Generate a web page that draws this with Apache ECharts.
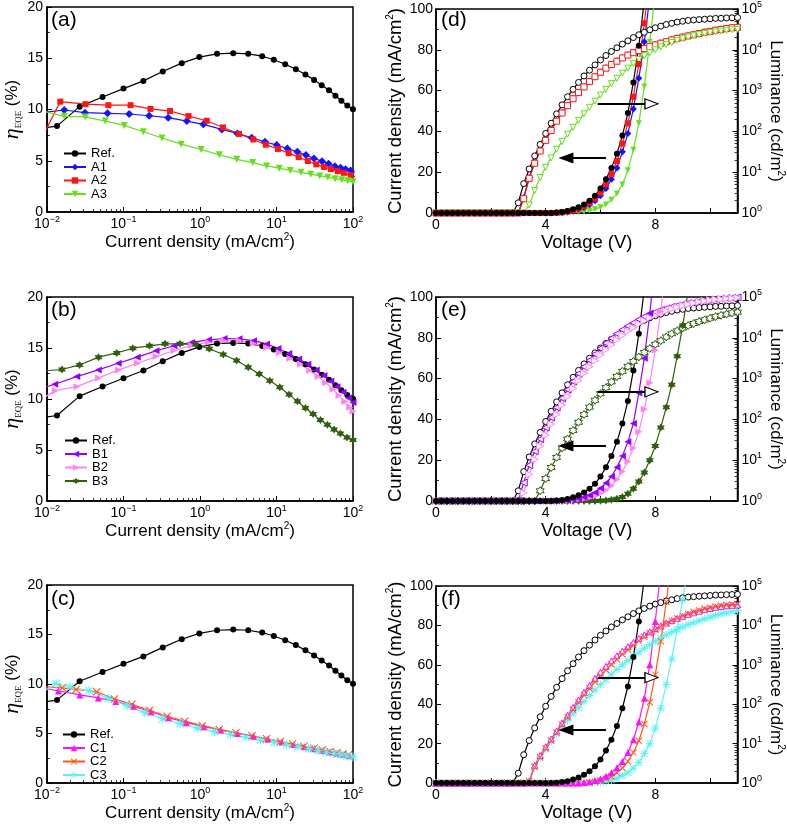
<!DOCTYPE html>
<html><head><meta charset="utf-8">
<script src="https://cdn.jsdelivr.net/npm/echarts/dist/echarts.min.js"></script>
<style>html,body{margin:0;padding:0;background:#fff}#c{width:787px;height:824px}</style>
</head><body><div id="c"></div>
<script>
// ---------- EQE vs current density (mA/cm2) ----------
const refX = [0.0089, 0.0135, 0.0267, 0.0532, 0.1, 0.182, 0.326, 0.577, 0.98, 1.67, 2.72, 4.27, 6.5, 9.23, 13.0, 17.9, 23.9, 31.0, 39.0, 48.6, 58.9, 70.5, 84.3, 100];
const refY = [8.18, 8.38, 10.28, 11.22, 12.04, 12.79, 13.70, 14.52, 15.11, 15.43, 15.50, 15.43, 15.20, 14.85, 14.42, 13.93, 13.41, 12.89, 12.37, 11.88, 11.35, 10.86, 10.38, 10.02];

const a1X = [0.0089, 0.0168, 0.0313, 0.0618, 0.1186, 0.2168, 0.3837, 0.673, 1.107, 1.928, 3.076, 4.742, 7.08, 10.07, 13.84, 18.71, 24.27, 30.9, 39.3, 47.9, 58.1, 68.9, 80.0, 92.9, 107.2];
const a1Y = [9.7, 9.95, 9.69, 9.63, 9.56, 9.39, 9.2, 8.87, 8.55, 8.06, 7.67, 7.24, 6.85, 6.53, 6.2, 5.87, 5.55, 5.22, 4.96, 4.70, 4.47, 4.31, 4.18, 4.05, 3.85];
const a2X = [0.0089, 0.01493, 0.03184, 0.06339, 0.1236, 0.2254, 0.4055, 0.7079, 1.225, 1.995, 3.236, 4.977, 7.244, 10.47, 14.45, 19.5, 25.7, 33.1, 41.7, 51.3, 63.1, 75.9, 93.3, 109.6];
const a2Y = [7.49, 10.77, 10.52, 10.42, 10.42, 10.06, 9.85, 9.36, 8.9, 8.25, 7.62, 7.08, 6.57, 6.15, 5.74, 5.35, 4.98, 4.65, 4.40, 4.18, 3.98, 3.82, 3.6, 3.42];
const a3X = [0.0089, 0.0168, 0.0316, 0.0577, 0.1023, 0.1816, 0.3184, 0.5689, 1.035, 1.79, 3.02, 4.887, 7.43, 10.86, 15.14, 20.9, 28.0, 36.7, 46.8, 58.3, 71.4, 85.5, 100];
const a3Y = [9.85, 9.33, 9.28, 8.87, 8.45, 7.83, 7.22, 6.62, 6.1, 5.58, 5.14, 4.82, 4.50, 4.28, 4.06, 3.87, 3.69, 3.52, 3.40, 3.25, 3.14, 3.05, 2.94];

const b1X = [0.0089, 0.0126, 0.0245, 0.0468, 0.0851, 0.1514, 0.266, 0.457, 0.776, 1.288, 2.065, 3.236, 5.012, 7.413, 10.47, 14.45, 19.5, 25.7, 33.1, 41.7, 51.3, 61.7, 74.1, 87.1, 100];
const b1Y = [11.1, 11.45, 12.2, 12.85, 13.5, 14.1, 14.72, 15.22, 15.55, 15.8, 15.93, 15.9, 15.72, 15.4, 14.95, 14.45, 13.93, 13.4, 12.85, 12.3, 11.75, 11.2, 10.65, 10.1, 9.65];
const b2X = [0.0089, 0.01285, 0.0246, 0.0472, 0.0861, 0.1524, 0.2667, 0.4581, 0.778, 1.285, 2.056, 3.258, 4.966, 7.413, 10.84, 14.93, 20.56, 27.23, 34.91, 43.95, 54.83, 65.61, 77.8, 90.57, 100];
const b2Y = [10.1, 10.82, 11.21, 12.07, 12.85, 13.51, 14.16, 14.75, 15.25, 15.57, 15.74, 15.74, 15.45, 15.05, 14.55, 14.0, 13.4, 12.8, 12.2, 11.6, 10.95, 10.35, 9.75, 9.2, 8.8];
const b3X = [0.0089, 0.0157, 0.0267, 0.0472, 0.0818, 0.1324, 0.2183, 0.3491, 0.5483, 0.877, 1.324, 2.014, 3.006, 4.266, 5.943, 8.185, 11.04, 14.62, 18.79, 23.88, 30.06, 37.5, 46.24, 56.49, 68.39, 83.56, 100];
const b3Y = [12.75, 12.89, 13.34, 14.1, 14.52, 14.98, 15.21, 15.41, 15.41, 15.34, 14.92, 14.36, 13.77, 13.11, 12.46, 11.8, 11.15, 10.43, 9.77, 9.11, 8.52, 7.93, 7.48, 7.02, 6.62, 6.23, 5.97];

const c1X = [0.0089, 0.0141, 0.0269, 0.0468, 0.0794, 0.1349, 0.2291, 0.389, 0.6607, 1.122, 1.862, 3.09, 5.012, 7.762, 11.75, 16.98, 23.44, 31.62, 40.74, 51.29, 63.1, 75.86, 89.13, 104.7];
const c1Y = [9.62, 9.3, 8.9, 8.6, 8.25, 7.75, 7.2, 6.6, 6.1, 5.7, 5.35, 5.02, 4.72, 4.42, 4.15, 3.9, 3.68, 3.48, 3.3, 3.15, 3.0, 2.88, 2.77, 2.66];
const c2X = [0.0089, 0.01585, 0.024, 0.0447, 0.0759, 0.1288, 0.2188, 0.3715, 0.631, 1.072, 1.778, 2.951, 4.786, 7.413, 11.22, 16.22, 22.91, 30.9, 39.81, 50.12, 61.66, 74.13, 87.1, 102.3];
const c2Y = [9.72, 9.62, 9.45, 9.22, 8.5, 7.95, 7.35, 6.75, 6.25, 5.8, 5.42, 5.08, 4.78, 4.48, 4.2, 3.95, 3.72, 3.52, 3.35, 3.2, 3.06, 2.95, 2.85, 2.74];
const c3X = [0.0089, 0.01318, 0.01995, 0.03548, 0.0631, 0.1122, 0.1905, 0.3236, 0.5495, 0.9333, 1.549, 2.512, 3.981, 6.166, 9.333, 13.49, 19.05, 26.3, 34.67, 44.67, 56.23, 69.18, 83.18, 100];
const c3Y = [9.2, 10.05, 9.7, 9.35, 8.55, 7.8, 7.1, 6.5, 6.0, 5.55, 5.2, 4.9, 4.62, 4.35, 4.1, 3.88, 3.67, 3.47, 3.28, 3.12, 2.98, 2.85, 2.74, 2.63];

// ---------- J-V-L (voltage in V, J in mA/cm2, L in cd/m2) ----------
const volt = [0,0.2,0.4,0.6,0.8,1,1.2,1.4,1.6,1.8,2,2.2,2.4,2.6,2.8,3,3.2,3.4,3.6,3.8,4,4.2,4.4,4.6,4.8,5,5.2,5.4,5.6,5.8,6,6.2,6.4,6.6,6.8,7,7.2,7.4,7.6,7.8,8,8.2,8.4,8.6,8.8,9,9.2,9.4,9.6,9.8,10,10.2,10.4,10.6,10.8,11];

const jRef = [0,0,0,0,0,0,0,0,0,0,0,0,0,0,0,0,0,0,0,0,0,0, 0.2,0.5,1.0,1.8,2.8,4.2,6.0,8.5,12,16.5,22,29,38,49,64,82,104];
const jA1  = [0,0,0,0,0,0,0,0,0,0,0,0,0,0,0,0,0,0,0,0,0,0, 0.1,0.2,0.5,1.0,1.7,2.7,4.0,6.0,8.5,12,16.5,22,30,39,51,66,84,106];
const jA2  = [0,0,0,0,0,0,0,0,0,0,0,0,0,0,0,0,0,0,0,0,0,0, 0.1,0.3,0.7,1.3,2.2,3.4,5.0,7.2,10,14,19,25.5,34,44,57,73,93,117];
const jA3  = [0,0,0,0,0,0,0,0,0,0,0,0,0,0,0,0,0,0,0,0,0,0,0,0,0, 0.2,0.4,0.7,1.2,1.8,2.8,4.2,6.5,9.5,14,21,31,44,62,84,108];
const jB1  = [0,0,0,0,0,0,0,0,0,0,0,0,0,0,0,0,0,0,0,0,0,0,0, 0.1,0.3,0.6,1.1,1.8,2.8,4.2,6.2,8.8,12,16.5,22,29,38,53,70,92,118];
const jB2  = [0,0,0,0,0,0,0,0,0,0,0,0,0,0,0,0,0,0,0,0,0,0,0,0, 0.1,0.3,0.6,1.0,1.6,2.5,3.7,5.3,7.5,10.5,14.5,19.5,26,34,45,58,74,93,116];
const jB3  = [0,0,0,0,0,0,0,0,0,0,0,0,0,0,0,0,0,0,0,0,0,0,0,0,0,0,0,0,0,0, 0.1,0.3,0.6,1.1,2,3.5,6,9.5,14,20,27,36,46,57,71,86,103];
const jC1  = [0,0,0,0,0,0,0,0,0,0,0,0,0,0,0,0,0,0,0,0,0,0,0,0,0,0, 0.1,0.3,0.7,1.3,2.2,3.5,5.3,7.8,11,15.5,22,31,43,60,82,108];
const jC2  = [0,0,0,0,0,0,0,0,0,0,0,0,0,0,0,0,0,0,0,0,0,0,0,0,0,0,0, 0.1,0.3,0.7,1.3,2.2,3.4,5.2,7.6,11,15.5,21.5,30,41,55,72,92,114];
const jC3  = [0,0,0,0,0,0,0,0,0,0,0,0,0,0,0,0,0,0,0,0,0,0,0,0,0,0,0,0, 0.1,0.3,0.6,1.0,1.6,2.5,3.7,5.3,7.5,10.5,15,20,28,38,50,63,78,93,110];

const lRef = [1,1,1,1,1,1,1,1,1,1,1,1,1,1,1, 1.78,5.25,12.0,25.1,47.9,89.1,158,269,447,708,1070,1585,2290,3160,4270,5620,7240,9120,11200,13800,16600,19950,23400,26900,30900,34700,38000,41700,44700,47900,50100,52500,53700,55000,56200,57500,58900,59200,60300,60800,61700];
const lA1 = [1,1,1,1,1,1,1,1,1,1,1,1,1,1,1,1, 2.4,7.4,17.2,34,62,108,182,288,436,645,910,1260,1700,2240,2890,3640,4480,5390,6480,7600,8750,9850,11000,12300,13600,14900,16300,17900,19600,21000,22500,24100,25800,27600,29000,31000,32500,34000,35600,36500];
const lA2 = [1,1,1,1,1,1,1,1,1,1,1,1,1,1,1,1, 2.24,7.08,16.6,33.1,60.3,105,178,282,427,631,891,1230,1660,2190,2820,3550,4370,5250,6310,7410,8510,9550,10700,12000,13200,14500,15800,17400,19100,20400,21900,23400,25100,26900,28200,30200,31600,33100,34700,35500];
const lA3 = [1,1,1,1,1,1,1,1,1,1,1,1,1,1,1,1,1, 1.58,3.55,7.41,13.2,22.4,36.3,56.2,85.1,126,186,269,389,550,776,1070,1480,2000,2690,3550,4570,5750,7080,8510,10000,11700,13500,15100,17000,18600,20400,21900,23400,25100,26300,27500,28800,30200,30900,31600];
const lB1 = [1,1,1,1,1,1,1,1,1,1,1,1,1,1,1,1, 2.82,7.59,16.6,33.1,63.1,112,195,331,537,851,1320,1950,2820,3980,5500,7410,9770,12600,15800,19500,23400,28200,33100,38000,42700,47900,52500,57500,61700,66100,70800,74100,77600,81300,85100,87100,91200,93300,95500,97700];
const lB2 = [1,1,1,1,1,1,1,1,1,1,1,1,1,1,1,1, 1.58,4.47,10.5,21.9,41.7,75.9,132,224,363,575,891,1350,1950,2750,3800,5130,6760,8910,11500,14500,17800,21900,26300,30900,35500,40700,45700,51300,56200,61700,66100,70800,75900,79400,83200,87100,89100,91200,93300,95500];
const lB3 = [1,1,1,1,1,1,1,1,1,1,1,1,1,1,1,1,1,1,1, 1.78,3.55,6.61,11.7,20.0,33.1,53.7,85.1,132,200,295,427,603,832,1120,1510,2000,2630,3390,4370,5500,6920,8510,10500,12600,14800,17400,20000,22400,25100,27500,30200,33100,35500,38000,40700,42700];
const lC1 = [1,1,1,1,1,1,1,1,1,1,1,1,1,1,1,1,1, 1.12,2.82,5.01,8.32,13.2,20.9,33.1,52.5,83.2,129,200,302,447,646,912,1260,1700,2240,2880,3720,4680,5750,6920,8320,9770,11500,13200,15100,17000,19100,20900,22900,25100,26900,28800,30200,31600,32400,33100];
const lC2 = [1,1,1,1,1,1,1,1,1,1,1,1,1,1,1,1,1, 1.12,2.63,4.57,7.59,12.0,19.1,30.2,46.8,72.4,112,170,251,372,525,741,1020,1380,1860,2450,3160,4070,5130,6310,7760,9330,11200,13200,15100,17400,19500,21900,24000,26300,28200,30200,31600,33100,33900,34700];
const lC3 = [1,1,1,1,1,1,1,1,1,1,1,1,1,1,1,1,1, 1.12,2.51,4.37,7.24,11.5,17.8,26.9,39.8,57.5,83.2,117,166,229,316,427,575,759,1000,1290,1660,2090,2630,3240,3980,4790,5750,6760,7940,9120,10500,11700,13200,14800,16200,17800,19500,20900,22400,24000];

// arrow annotations (voltage, current density)
const arrowLeft = {from: [6.2, 27], to: [4.85, 27], head: [4.74, 27]};
const arrowRight = {from: [5.9, 53.5], to: [7.65, 53.5], head: [7.86, 53.5]};

const yTicksEQE = [0, 5, 10, 15, 20];
const FONT = 'Liberation Sans';

// ---------- build ----------
const chart = echarts.init(document.getElementById('c'), null, {renderer: 'canvas'});

const C = {
  ref: '#000000', a1: '#1414ff', a2: '#ff1414', a3: '#66e01e',
  b1: '#9400ff', b2: '#ff82f5', b3: '#2f5e0c',
  c1: '#ff10ff', c2: '#ff5516', c3: '#5cf2f2'
};
const STAR = 'path://M0,-10 L2.9,-5 L8.66,-5 L5.8,0 L8.66,5 L2.9,5 L0,10 L-2.9,5 L-8.66,5 L-5.8,0 L-8.66,-5 L-2.9,-5 Z';
const CROSS = 'path://M-3.58,-4.42 L4.42,3.58 L3.58,4.42 L-4.42,-3.58 Z M-4.42,3.58 L3.58,-4.42 L4.42,-3.58 L-3.58,4.42 Z';
const ASTER = 'path://M-0.6,-5 L0.6,-5 L0.6,5 L-0.6,5 Z M-5,-0.6 L5,-0.6 L5,0.6 L-5,0.6 Z M-3.58,-4.42 L4.42,3.58 L3.58,4.42 L-4.42,-3.58 Z M-4.42,3.58 L3.58,-4.42 L4.42,-3.58 L-3.58,4.42 Z';

const zipXY = (xs, ys) => xs.map((x, i) => [x, ys[i]]);
const zipV = (vals) => vals.map((v, i) => [volt[i], v]);

function line(name, xi, yi, data, color, symbol, size, opt) {
  opt = opt || {};
  return {
    type: 'line', name, xAxisIndex: xi, yAxisIndex: yi, data,
    symbol, symbolSize: size, symbolRotate: opt.rot || 0, showAllSymbol: true,
    lineStyle: {color, width: 1.2},
    itemStyle: opt.open ? {color: '#fff', borderColor: color, borderWidth: 1} : {color},
    animation: false, clip: true, z: opt.z || 3,
    markLine: opt.markLine, markPoint: opt.markPoint
  };
}

const supLabel = v => {
  const e = Math.round(Math.log10(v));
  return '{b|10}{s|' + (e < 0 ? '\u2212' + (-e) : String(e)) + '}';
};
const supRich = {
  b: {fontFamily: FONT, fontSize: 14, color: '#000', lineHeight: 18},
  s: {fontFamily: FONT, fontSize: 9, color: '#000', verticalAlign: 'top', lineHeight: 10}
};
const axisLineS = {show: true, lineStyle: {color: '#000', width: 1.5}};
const tickS = {show: true, inside: true, length: 5, lineStyle: {color: '#000', width: 1}};
const minorS = (n) => ({show: true, splitNumber: n, length: 3, lineStyle: {color: '#000', width: 0.8}});

const gridDefs = [
  {left: 47, top: 7, width: 306, height: 205},
  {left: 47, top: 297, width: 306, height: 204},
  {left: 47, top: 585, width: 306, height: 204},
  {left: 436, top: 7, width: 307, height: 206},
  {left: 436, top: 297, width: 307, height: 204},
  {left: 436, top: 586, width: 307, height: 205}
];
const grid = gridDefs.map(g => Object.assign({show: true, borderColor: '#000', borderWidth: 1.5, containLabel: false}, g));

const xAxis = [];
const yAxis = [];
for (let i = 0; i < 3; i++) {
  xAxis.push({
    type: 'log', logBase: 10, gridIndex: i, min: 0.01, max: 100,
    axisLine: axisLineS, axisTick: tickS, minorTick: minorS(9), splitLine: {show: false},
    axisLabel: {formatter: supLabel, rich: supRich, margin: 3, color: '#000'},
    name: 'Current density (mA/cm{s|2})', nameLocation: 'middle', nameGap: 14,
    nameTextStyle: {fontFamily: FONT, fontSize: 17, color: '#000', lineHeight: 20,
      rich: {s: {fontFamily: FONT, fontSize: 10, verticalAlign: 'top', lineHeight: 10, color: '#000'}}}
  });
  yAxis.push({
    type: 'value', gridIndex: i, min: yTicksEQE[0], max: yTicksEQE[yTicksEQE.length - 1], interval: 5,
    axisLine: axisLineS, axisTick: tickS, minorTick: minorS(2), splitLine: {show: false},
    axisLabel: {fontFamily: FONT, fontSize: 14, color: '#000', margin: 4},
    name: '{e|\u03b7}{q|EQE}{p| (%)}', nameLocation: 'middle', nameGap: 22,
    nameTextStyle: {fontFamily: FONT, fontSize: 17, color: '#000', lineHeight: 22,
      rich: {
        e: {fontFamily: 'Liberation Serif', fontStyle: 'italic', fontSize: 22, lineHeight: 22, color: '#000'},
        q: {fontFamily: 'Liberation Serif', fontSize: 9, verticalAlign: 'bottom', lineHeight: 11, color: '#000'},
        p: {fontFamily: FONT, fontSize: 17, lineHeight: 22, color: '#000'}
      }}
  });
}
for (let i = 3; i < 6; i++) {
  xAxis.push({
    type: 'value', gridIndex: i, min: 0, max: 11, interval: 2,
    axisLine: axisLineS, axisTick: tickS, splitLine: {show: false},
    axisLabel: {fontFamily: FONT, fontSize: 14, color: '#000', margin: 5, showMaxLabel: false,
      formatter: v => (v % 4 === 0 ? String(v) : '')},
    name: 'Voltage (V)', nameLocation: 'middle', nameGap: 16,
    nameTextStyle: {fontFamily: FONT, fontSize: 18.5, color: '#000', lineHeight: 20}
  });
  yAxis.push({
    type: 'value', gridIndex: i, min: 0, max: 100, interval: 20, position: 'left',
    axisLine: axisLineS, axisTick: tickS, minorTick: minorS(2), splitLine: {show: false},
    axisLabel: {fontFamily: FONT, fontSize: 14, color: '#000', margin: 3},
    name: 'Current density (mA/cm{s|2})', nameLocation: 'middle', nameGap: 26,
    nameTextStyle: {fontFamily: FONT, fontSize: 18.5, color: '#000', lineHeight: 20,
      rich: {s: {fontFamily: FONT, fontSize: 10, verticalAlign: 'top', lineHeight: 10, color: '#000'}}}
  });
  yAxis.push({
    type: 'log', logBase: 10, gridIndex: i, min: 1, max: 100000, position: 'right',
    axisLine: axisLineS, axisTick: tickS, minorTick: minorS(9), splitLine: {show: false},
    axisLabel: {formatter: supLabel, rich: supRich, margin: 4, color: '#000'},
    name: 'Luminance (cd/m{s|2})', nameLocation: 'middle', nameGap: 25, nameRotate: -90,
    nameTextStyle: {fontFamily: FONT, fontSize: 17, color: '#000', lineHeight: 20,
      rich: {s: {fontFamily: FONT, fontSize: 10, verticalAlign: 'top', lineHeight: 10, color: '#000'}}}
  });
}

function arrows() {
  return {
    markLine: {silent: true, symbol: ['none', 'none'], animation: false, label: {show: false},
      lineStyle: {color: '#000', width: 2, type: 'solid'},
      data: [[{coord: arrowLeft.from}, {coord: arrowLeft.to}], [{coord: arrowRight.from}, {coord: arrowRight.to}]]},
    markPoint: {silent: true, animation: false, label: {show: false},
      data: [
        {coord: arrowLeft.head, symbol: 'triangle', symbolSize: [11, 15], symbolRotate: 90, itemStyle: {color: '#000'}},
        {coord: arrowRight.head, symbol: 'triangle', symbolSize: [10, 13], symbolRotate: -90, itemStyle: {color: '#fff', borderColor: '#000', borderWidth: 1.2}}
      ]}
  };
}

const series = [
  // (a)
  line('Ref.', 0, 0, zipXY(refX, refY), C.ref, 'circle', 6),
  line('A1', 0, 0, zipXY(a1X, a1Y), C.a1, 'diamond', 8),
  line('A2', 0, 0, zipXY(a2X, a2Y), C.a2, 'rect', 6),
  line('A3', 0, 0, zipXY(a3X, a3Y), C.a3, 'triangle', 7, {rot: 180}),
  // (b)
  line('Ref.', 1, 1, zipXY(refX, refY), C.ref, 'circle', 6),
  line('B1', 1, 1, zipXY(b1X, b1Y), C.b1, 'triangle', 7, {rot: 90}),
  line('B2', 1, 1, zipXY(b2X, b2Y), C.b2, 'triangle', 7, {rot: -90}),
  line('B3', 1, 1, zipXY(b3X, b3Y), C.b3, STAR, 8),
  // (c)
  line('Ref.', 2, 2, zipXY(refX, refY), C.ref, 'circle', 6),
  line('C1', 2, 2, zipXY(c1X, c1Y), C.c1, 'triangle', 7),
  line('C2', 2, 2, zipXY(c2X, c2Y), C.c2, CROSS, 8),
  line('C3', 2, 2, zipXY(c3X, c3Y), C.c3, ASTER, 9),
  // (d) luminance
  line('dL Ref', 3, 4, zipV(lRef), C.ref, 'circle', 6, {open: true}),
  line('dL A1', 3, 4, zipV(lA1), C.a1, 'diamond', 6, {open: true}),
  line('dL A2', 3, 4, zipV(lA2), C.a2, 'rect', 6, {open: true}),
  line('dL A3', 3, 4, zipV(lA3), C.a3, 'triangle', 6, {open: true, rot: 180}),
  // (d) current density
  line('dJ A3', 3, 3, zipV(jA3), C.a3, 'triangle', 6, {rot: 180}),
  line('dJ A1', 3, 3, zipV(jA1), C.a1, 'diamond', 7),
  line('dJ A2', 3, 3, zipV(jA2), C.a2, 'rect', 6),
  line('dJ Ref', 3, 3, zipV(jRef), C.ref, 'circle', 6, arrows()),
  // (e)
  line('eL Ref', 4, 6, zipV(lRef), C.ref, 'circle', 6, {open: true}),
  line('eL B1', 4, 6, zipV(lB1), C.b1, 'triangle', 7, {open: true, rot: 90}),
  line('eL B2', 4, 6, zipV(lB2), C.b2, 'triangle', 7, {open: true, rot: -90}),
  line('eL B3', 4, 6, zipV(lB3), C.b3, STAR, 8, {open: true}),
  line('eJ B3', 4, 5, zipV(jB3), C.b3, STAR, 8),
  line('eJ B2', 4, 5, zipV(jB2), C.b2, 'triangle', 7, {rot: -90}),
  line('eJ B1', 4, 5, zipV(jB1), C.b1, 'triangle', 7, {rot: 90}),
  line('eJ Ref', 4, 5, zipV(jRef), C.ref, 'circle', 6, arrows()),
  // (f)
  line('fL Ref', 5, 8, zipV(lRef), C.ref, 'circle', 6, {open: true}),
  line('fL C3', 5, 8, zipV(lC3), C.c3, ASTER, 8),
  line('fL C1', 5, 8, zipV(lC1), C.c1, 'triangle', 6, {open: true}),
  line('fL C2', 5, 8, zipV(lC2), C.c2, CROSS, 7),
  line('fJ C3', 5, 7, zipV(jC3), C.c3, ASTER, 8),
  line('fJ C2', 5, 7, zipV(jC2), C.c2, CROSS, 7),
  line('fJ C1', 5, 7, zipV(jC1), C.c1, 'triangle', 7),
  line('fJ Ref', 5, 7, zipV(jRef), C.ref, 'circle', 6, arrows())
];

const legendBase = {
  orient: 'vertical', itemWidth: 22, itemHeight: 8, itemGap: 0.5,
  textStyle: {fontFamily: FONT, fontSize: 13, color: '#000', lineHeight: 13},
  selectedMode: false, inactiveColor: '#000'
};
const legend = [
  Object.assign({left: 58, top: 142, data: ['Ref.', 'A1', 'A2', 'A3']}, legendBase),
  Object.assign({left: 59, top: 429, data: ['Ref.', 'B1', 'B2', 'B3']}, legendBase),
  Object.assign({left: 57, top: 723, data: ['Ref.', 'C1', 'C2', 'C3']}, legendBase)
];

const labels = [['(a)', 51, 10], ['(b)', 51, 300], ['(c)', 51, 589], ['(d)', 441, 10], ['(e)', 441, 300], ['(f)', 441, 589]];
const title = labels.map(l => ({text: l[0], left: l[1], top: l[2], padding: 0,
  textStyle: {fontFamily: FONT, fontSize: 21, fontWeight: 'normal', color: '#000'}}));

chart.setOption({animation: false, backgroundColor: '#fff', title, grid, xAxis, yAxis, legend, series});
</script>
</body></html>
